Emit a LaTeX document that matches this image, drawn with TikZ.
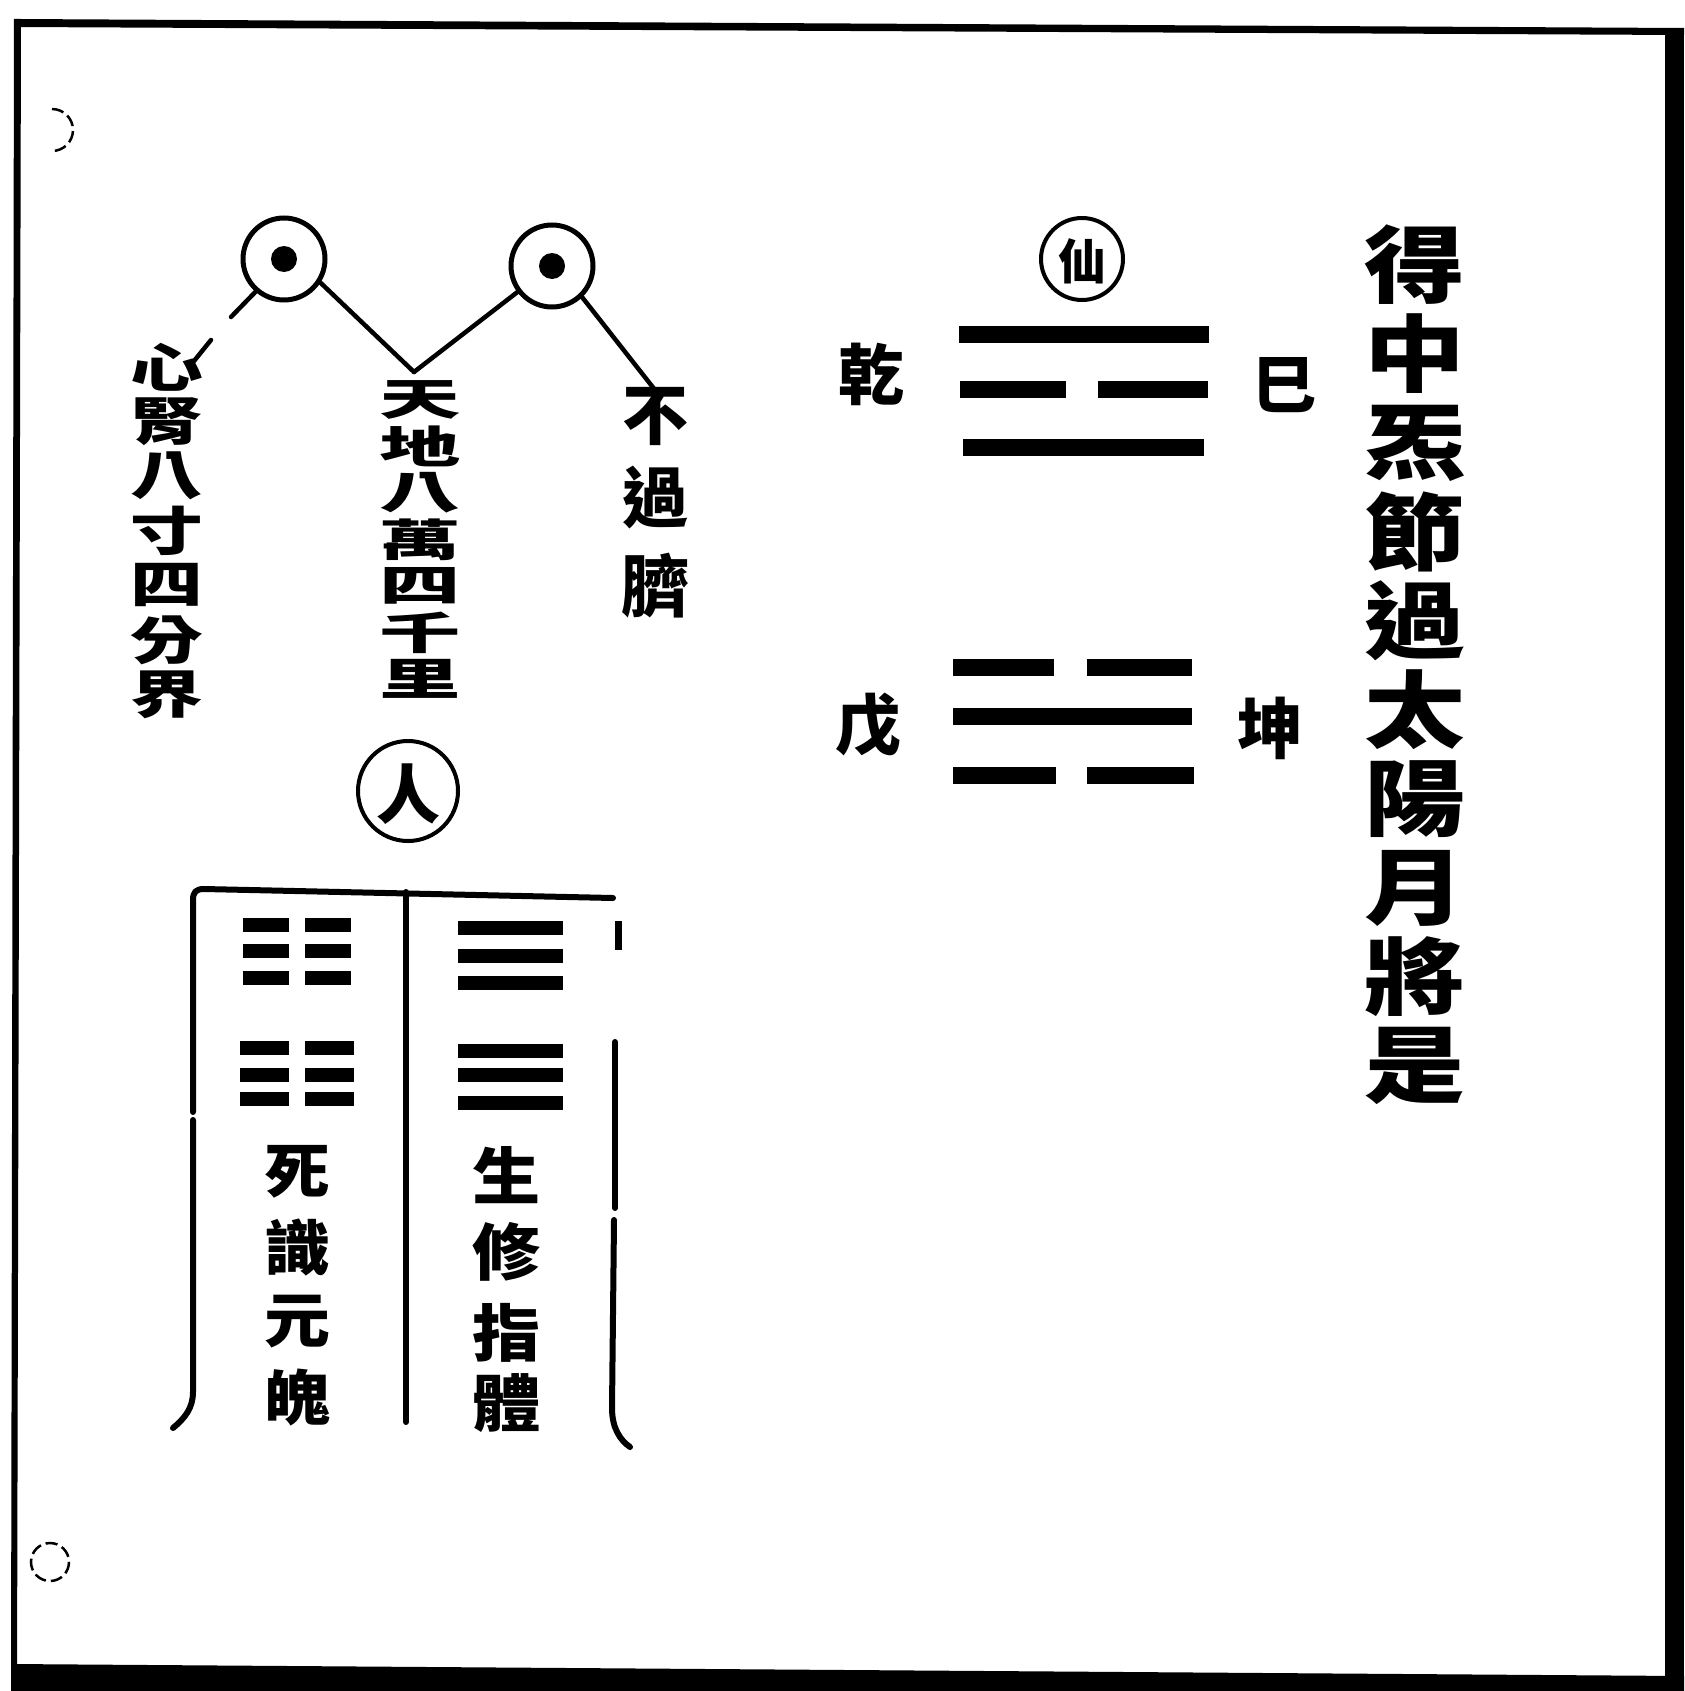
\documentclass[tikz,border=0pt]{standalone}
\usepackage{fontspec}
\usepackage{graphicx}
\newfontfamily\cjk{Noto Sans CJK TC}
\tikzset{
  glyph/.style={inner sep=0pt, font={\cjk\bfseries\fontsize{#1}{#1}\selectfont}},
  tgt/.style={circle, draw, line width=5pt, minimum size=82pt, inner sep=0pt},
  dotc/.style={circle, fill, minimum size=26pt, inner sep=0pt},
  ring/.style={circle, draw, line width=4pt, minimum size=#1, inner sep=0pt},
  conn/.style={line width=4.5pt, line cap=round},
  bigbar/.style={line width=17pt},
  boxbar/.style={line width=14pt},
  boxline/.style={line width=6pt, line cap=round, line join=round},
  faint/.style={line width=2.5pt, dash pattern=on 12pt off 5pt}
}
\begin{document}
\begin{tikzpicture}[x=1pt,y=-1pt]
\fill[white] (0,0) rectangle (1684,1691);
\useasboundingbox (0,0) rectangle (1684,1691);
% frame
\fill (16,19) -- (1684,28) -- (1684,35) -- (16,27) -- cycle;
\fill (14,19) -- (21,19) -- (17,1691) -- (11,1691) -- cycle;
\fill (1665,28) -- (1684,28) -- (1684,1691) -- (1665,1691) -- cycle;
\fill (11,1664) -- (1684,1676) -- (1684,1691) -- (11,1691) -- cycle;
% small marks at left
\draw[faint] (52,109) arc[start angle=-90, end angle=90, radius=21];
\draw[faint] (50,1562) circle[radius=19];

% target circles
\node[tgt] (c1) at (284,259) {};
\node[dotc] (d1) at (284,259) {};
\node[tgt] (c2) at (552,266) {};
\node[dotc] (d2) at (552,266) {};

% left column
\foreach \c [count=\i] in {心,腎,八,寸,四,分,界}
  \node[glyph=52] (l\i) at (167,{367+(\i-1)*54.6}) {\scalebox{1.4}[1]{\c}};
% middle column
\foreach \c [count=\i] in {天,地,八,萬,四,千,里}
  \node[glyph=44] (m\i) at (420,{400+(\i-1)*46.5}) {\scalebox{1.85}[1]{\c}};
% right column
\node[glyph=66] (r1) at (655,416) {不};
\node[glyph=66] (r2) at (655,498) {過};
\node[glyph=68] (r3) at (655,586) {臍};

% connectors
\coordinate (apex) at (414,372);
\coordinate (lend) at (231,317);
\coordinate (lstart2) at (211,340);
\coordinate (lend2) at (190,366);
\coordinate (rend) at (655,390);
\draw[conn] (c1.-33) -- (apex);
\draw[conn] (apex) -- (c2.217);
\draw[conn] (c2.-46) -- (rend);
\draw[conn] (c1.229) -- (lend);
\draw[conn] (lstart2) -- (lend2);

% ren circle
\node[ring=100pt] (ren) at (408,791) {};
\node[glyph=64] (rent) at (408,794) {人};

% xian circle and trigrams
\node[ring=82pt] (xian) at (1082,259) {};
\node[glyph=48] (xiant) at (1082,261) {仙};
\draw[bigbar] (959,334) -- (1209,334);
\draw[bigbar] (960,389) -- (1066,389);
\draw[bigbar] (1098,389) -- (1208,389);
\draw[bigbar] (963,447) -- (1204,447);
\draw[bigbar] (953,667) -- (1054,667);
\draw[bigbar] (1087,667) -- (1192,667);
\draw[bigbar] (953,716) -- (1192,716);
\draw[bigbar] (953,775) -- (1056,775);
\draw[bigbar] (1087,775) -- (1194,775);
\node[glyph=66] (qian) at (871,374) {乾};
\node[glyph=64] (si) at (1284,385) {巳};
\node[glyph=66] (wu) at (868,725) {戊};
\node[glyph=66] (kun) at (1270,728) {坤};

% title
\foreach \c [count=\i] in {得,中,炁,節,過,太,陽,月,將,是}
  \node[glyph=84] (t\i) at (1415,{265+(\i-1)*89}) {\scalebox{1.2}[1]{\c}};

% box
\draw[boxline] (193,1112) -- (193,900) .. controls (193,892) and (196,889) .. (204,889) -- (613,898);
\draw[boxline] (193,1120) -- (193,1392) .. controls (193,1408) and (185,1418) .. (173,1428);
\draw[boxline] (406,892) -- (406,1422);
\draw[line width=7pt] (618,921) -- (618,950);
\draw[boxline] (615,1042) -- (615,1208);
\draw[boxline] (614,1220) -- (612,1408) .. controls (612,1428) and (620,1440) .. (630,1447);
% kun hexagram
\foreach \y in {925,951,978} {
  \draw[boxbar] (243,\y) -- (289,\y);
  \draw[boxbar] (305,\y) -- (351,\y);
}
\foreach \y in {1048,1075,1099} {
  \draw[boxbar] (240,\y) -- (289,\y);
  \draw[boxbar] (305,\y) -- (354,\y);
}
% qian hexagram
\foreach \y in {928,956,983,1051,1075,1103}
  \draw[boxbar] (458,\y) -- (563,\y);
% box texts
\node[glyph=60] (s1) at (297,1172) {\scalebox{1.1}[1]{死}};
\node[glyph=60] (s2) at (297,1247) {\scalebox{1.1}[1]{識}};
\node[glyph=60] (s3) at (297,1322) {\scalebox{1.1}[1]{元}};
\node[glyph=60] (s4) at (297,1398) {\scalebox{1.1}[1]{魄}};
\node[glyph=62] (g1) at (507,1175) {\scalebox{1.1}[1]{生}};
\node[glyph=62] (g2) at (507,1252) {\scalebox{1.1}[1]{修}};
\node[glyph=62] (g3) at (507,1333) {\scalebox{1.1}[1]{指}};
\node[glyph=62] (g4) at (507,1403) {\scalebox{1.1}[1]{體}};
\end{tikzpicture}
\end{document}
